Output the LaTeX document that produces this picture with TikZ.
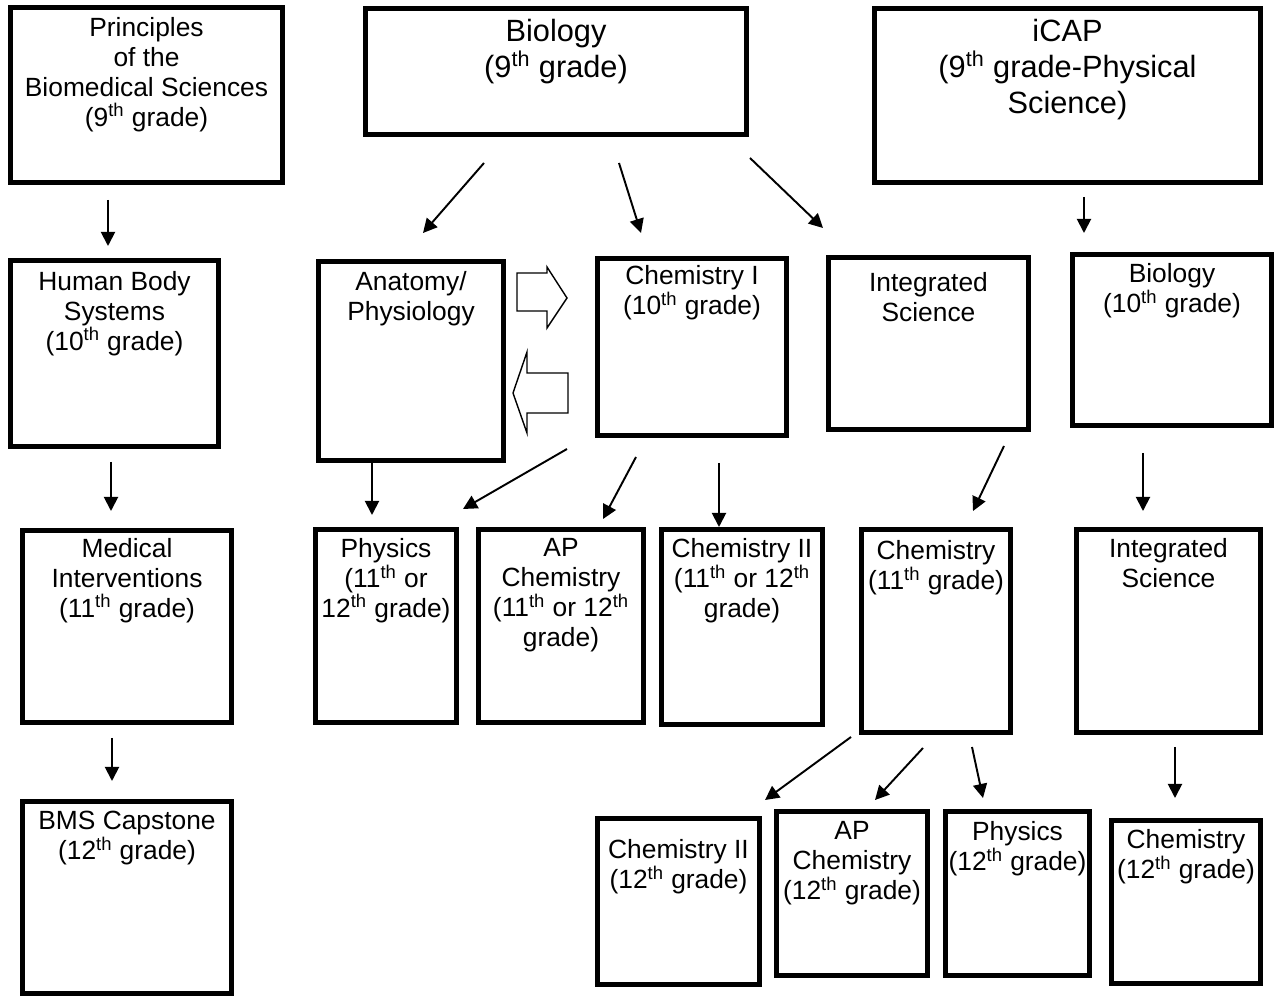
\documentclass[tikz,border=0pt]{standalone}
\usepackage{fontspec}
\setmainfont{Liberation Sans}
\usetikzlibrary{
  arrows.meta,
  positioning
}
\tikzset{>={Triangle[length=8pt,width=8pt]}}
\tikzset{
  course/.style 2 args={draw, line width=2.6pt, inner sep=0pt, outer sep=0pt,
    anchor=north west, minimum width=#1*0.02cm, minimum height=#2*0.02cm},
  ctext/.style={align=center, inner sep=0pt, font=\fontsize{15}{17}\selectfont},
  bigtext/.style={ctext, font=\fontsize{17.5}{20.5}\selectfont},
  link/.style={->, line width=1.1pt},
  blockarrow/.style={draw, line width=0.8pt, fill=white, line join=miter}
}
\newcommand{\gr}[1]{#1\textsuperscript{th}}

\begin{document}
\begin{tikzpicture}[x=0.02cm, y=-0.02cm]
  \useasboundingbox (0,0) rectangle (1276,996);

  \node[course={272}{175}] (prin) at (10.5,7.5) {};
  \node[course={381}{126}] (bio9) at (365.5,8.5) {};
  \node[course={386}{174}] (icap) at (874.5,8.5) {};
  \node[course={208}{186}] (hbs) at (10.5,260.5) {};
  \node[course={209}{192}] (medi) at (22.5,530.5) {};
  \node[course={209}{192}] (bms) at (22.5,801.5) {};
  \node[course={185}{199}] (ana) at (318.5,261.5) {};
  \node[course={189}{177}] (chem1) at (597.5,258.5) {};
  \node[course={200}{172}] (intg) at (828.5,257.5) {};
  \node[course={199}{171}] (bio10) at (1072.5,254.5) {};
  \node[course={141}{193}] (phys11) at (315.5,529.5) {};
  \node[course={165}{193}] (apchem11) at (478.5,529.5) {};
  \node[course={161}{195}] (chemtwo11) at (661.5,529.5) {};
  \node[course={149}{203}] (chem11) at (861.5,529.5) {};
  \node[course={184}{203}] (intg11) at (1076.5,529.5) {};
  \node[course={162}{166}] (chemtwo12) at (597.5,818.5) {};
  \node[course={151}{164}] (apchem12) at (776.5,811.5) {};
  \node[course={144}{164}] (phys12) at (945.5,811.5) {};
  \node[course={149}{163}] (chem12) at (1111.5,820.5) {};

  \node[ctext, below=0.19cm of prin.north] (prin-t) {Principles\\of the\\Biomedical Sciences\\(\gr{9} grade)};
  \node[bigtext, below=0.21cm of bio9.north] (bio9-t) {Biology\\(\gr{9} grade)};
  \node[bigtext, below=0.21cm of icap.north] (icap-t) {iCAP\\(\gr{9} grade-Physical\\Science)};
  \node[ctext, below=0.21cm of hbs.north] (hbs-t) {Human Body\\Systems\\(\gr{10} grade)};
  \node[ctext, below=0.15cm of medi.north] (medi-t) {Medical\\Interventions\\(\gr{11} grade)};
  \node[ctext, below=0.19cm of bms.north] (bms-t) {BMS Capstone\\(\gr{12} grade)};
  \node[ctext, below=0.19cm of ana.north] (ana-t) {Anatomy/\\Physiology};
  \node[ctext, below=0.13cm of chem1.north] (chem1-t) {Chemistry I\\(\gr{10} grade)};
  \node[ctext, below=0.29cm of intg.north] (intg-t) {Integrated\\Science};
  \node[ctext, below=0.17cm of bio10.north] (bio10-t) {Biology\\(\gr{10} grade)};
  \node[ctext, below=0.17cm of phys11.north] (phys11-t) {Physics\\(\gr{11} or\\\gr{12} grade)};
  \node[ctext, below=0.17cm of apchem11.north] (apchem11-t) {AP\\Chemistry\\(\gr{11} or \gr{12}\\grade)};
  \node[ctext, below=0.17cm of chemtwo11.north] (chemtwo11-t) {Chemistry II\\(\gr{11} or \gr{12}\\grade)};
  \node[ctext, below=0.21cm of chem11.north] (chem11-t) {Chemistry\\(\gr{11} grade)};
  \node[ctext, below=0.17cm of intg11.north] (intg11-t) {Integrated\\Science};
  \node[ctext, below=0.41cm of chemtwo12.north] (chemtwo12-t) {Chemistry II\\(\gr{12} grade)};
  \node[ctext, below=0.19cm of apchem12.north] (apchem12-t) {AP\\Chemistry\\(\gr{12} grade)};
  \node[ctext, below=0.19cm of phys12.north] (phys12-t) {Physics\\(\gr{12} grade)};
  \node[ctext, below=0.17cm of chem12.north] (chem12-t) {Chemistry\\(\gr{12} grade)};

  \draw[link] ([shift={(97.5,17.5)}]prin.south west) -- ([shift={(97.5,-14.5)}]hbs.north west);
  \draw[link] ([shift={(100.5,15.5)}]hbs.south west) -- ([shift={(88.5,-19.5)}]medi.north west);
  \draw[link] ([shift={(89.5,15.5)}]medi.south west) -- ([shift={(89.5,-20.5)}]bms.north west);
  \draw[link] ([shift={(118.5,28.5)}]bio9.south west) -- ([shift={(104.5,-28.5)}]ana.north west);
  \draw[link] ([shift={(253.5,28.5)}]bio9.south west) -- ([shift={(43.5,-25.5)}]chem1.north west);
  \draw[link] ([shift={(384.5,23.5)}]bio9.south west) -- ([shift={(-5.5,-29.5)}]intg.north west);
  \draw[link] ([shift={(209.5,14.5)}]icap.south west) -- ([shift={(11.5,-21.5)}]bio10.north west);
  \draw[link] ([shift={(53.5,0)}]ana.south west) -- ([shift={(56.5,-14.5)}]phys11.north west);
  \draw[link] ([shift={(-30.5,13.5)}]chem1.south west) -- ([shift={(147.5,-20.5)}]phys11.north west);
  \draw[link] ([shift={(38.5,21.5)}]chem1.south west) -- ([shift={(124.5,-10.5)}]apchem11.north west);
  \draw[link] ([shift={(121.5,27.5)}]chem1.south west) -- ([shift={(57.5,-2.5)}]chemtwo11.north west);
  \draw[link] ([shift={(175.5,16.5)}]intg.south west) -- ([shift={(111.5,-18.5)}]chem11.north west);
  \draw[link] ([shift={(70.5,27.5)}]bio10.south west) -- ([shift={(66.5,-18.5)}]intg11.north west);
  \draw[link] ([shift={(-10.5,4.5)}]chem11.south west) -- ([shift={(167.5,-18.5)}]chemtwo12.north west);
  \draw[link] ([shift={(61.5,15.5)}]chem11.south west) -- ([shift={(98.5,-11.5)}]apchem12.north west);
  \draw[link] ([shift={(110.5,14.5)}]chem11.south west) -- ([shift={(37.5,-13.5)}]phys12.north west);
  \draw[link] ([shift={(98.5,14.5)}]intg11.south west) -- ([shift={(63.5,-22.5)}]chem12.north west);

  \draw[blockarrow] (517,273) -- (547,273) -- (547,267) -- (567,298) -- (547,328)
    -- (547,311) -- (517,311) -- cycle;
  \draw[blockarrow] (568,373) -- (527,373) -- (527,352) -- (513,393) -- (527,433)
    -- (527,413) -- (568,413) -- cycle;
\end{tikzpicture}
\end{document}
